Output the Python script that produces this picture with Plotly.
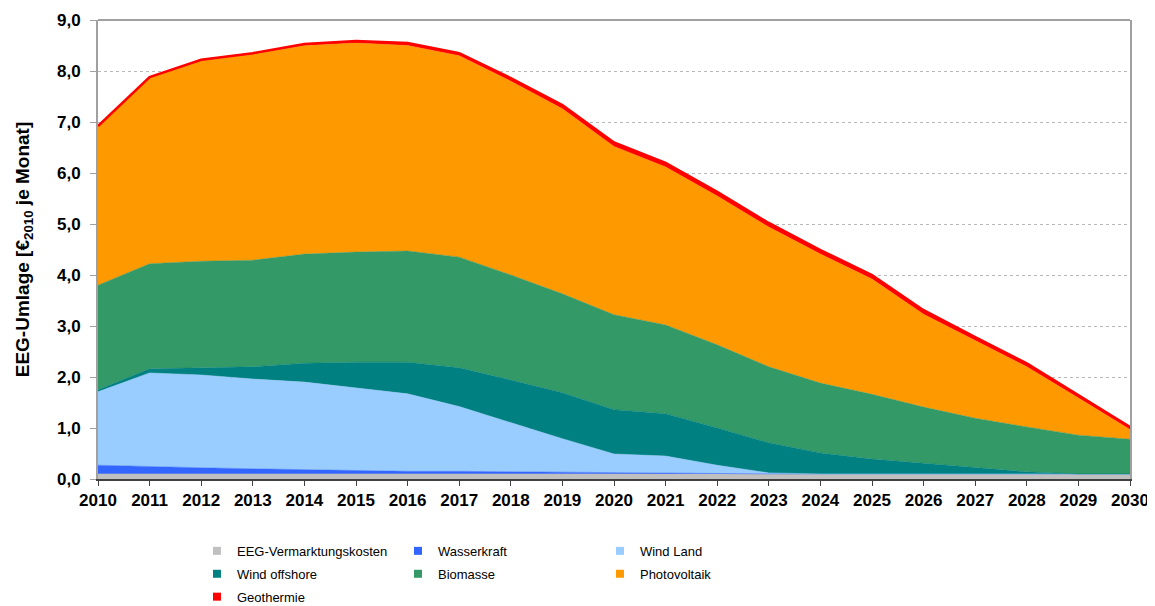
import plotly.graph_objects as go

years = list(range(2010, 2031))
y_ticks = [0, 1, 2, 3, 4, 5, 6, 7, 8, 9]

eeg_vermarktung = [0.10] * 21
wasserkraft = [0.17, 0.14, 0.12, 0.10, 0.08, 0.07, 0.05, 0.05, 0.04, 0.03, 0.02,
               0.01, 0.0, 0.0, 0.0, 0.0, 0.0, 0.0, 0.0, 0.0, 0.0]
wind_land = [1.44, 1.84, 1.82, 1.76, 1.72, 1.61, 1.52, 1.27, 0.96, 0.66, 0.37,
             0.34, 0.17, 0.02, 0.0, 0.0, 0.0, 0.0, 0.0, 0.0, 0.0]
wind_offshore = [0.04, 0.08, 0.14, 0.24, 0.37, 0.51, 0.62, 0.76, 0.84, 0.90, 0.87,
                 0.83, 0.73, 0.59, 0.41, 0.29, 0.21, 0.13, 0.04, 0.0, 0.0]
biomasse = [2.05, 2.06, 2.09, 2.09, 2.14, 2.16, 2.18, 2.17, 2.06, 1.94, 1.86,
            1.74, 1.63, 1.49, 1.37, 1.27, 1.10, 0.96, 0.88, 0.76, 0.68]
photovoltaik = [3.12, 3.65, 3.93, 4.04, 4.09, 4.10, 4.03, 3.95, 3.80, 3.63, 3.30,
                3.10, 2.92, 2.74, 2.53, 2.26, 1.82, 1.52, 1.18, 0.73, 0.19]
geothermie = [0.0, 0.01, 0.02, 0.02, 0.03, 0.04, 0.05, 0.05, 0.06, 0.07, 0.08,
              0.08, 0.08, 0.08, 0.08, 0.08, 0.08, 0.07, 0.07, 0.06, 0.05]

# (name, values, colour, legend column)
series = [
    ("EEG-Vermarktungskosten", eeg_vermarktung, "#C0C0C0", "legend"),
    ("Wasserkraft", wasserkraft, "#3366FF", "legend2"),
    ("Wind Land", wind_land, "#99CCFF", "legend3"),
    ("Wind offshore", wind_offshore, "#008080", "legend"),
    ("Biomasse", biomasse, "#339966", "legend2"),
    ("Photovoltaik", photovoltaik, "#FF9900", "legend3"),
    ("Geothermie", geothermie, "#FF0000", "legend"),
]

FONT = "Arial, Liberation Sans, sans-serif"

fig = go.Figure()
for name, vals, col, _ in series:
    lw = 2.5 if name == "Geothermie" else 0.5
    fig.add_trace(go.Scatter(
        x=years, y=vals, name=name, mode="lines",
        stackgroup="one", line=dict(color=col, width=lw),
        fillcolor=col, showlegend=False,
    ))

# legend entries with square markers
for name, vals, col, leg in series:
    fig.add_trace(go.Scatter(
        x=[None], y=[None], name=name, mode="markers",
        marker=dict(symbol="square", size=8, color=col),
        legend=leg, legendgroup=name, showlegend=True,
    ))

leg_common = dict(
    orientation="v", yanchor="top", xanchor="left", y=-0.124,
    font=dict(size=13, family=FONT, color="black"),
    bgcolor="rgba(0,0,0,0)", borderwidth=0, itemwidth=30,
    tracegroupgap=3, traceorder="grouped",
)

fig.update_layout(
    width=1147, height=598,
    margin=dict(l=90, r=25, t=12, b=127, autoexpand=False),
    paper_bgcolor="white", plot_bgcolor="white",
    font=dict(family=FONT, color="black"),
    showlegend=True,
    legend=dict(x=0.0959, **leg_common),
    legend2=dict(x=0.2907, **leg_common),
    legend3=dict(x=0.4864, **leg_common),
    xaxis=dict(
        range=[2010, 2030], tickmode="array", tickvals=years,
        ticktext=["<b>%d</b>" % y for y in years],
        tickfont=dict(size=17, family=FONT),
        ticks="outside", ticklen=5, tickcolor="#404040",
        showline=True, linecolor="#404040", linewidth=1.5,
        showgrid=False, zeroline=False,
    ),
    yaxis=dict(
        range=[0, 9], tickmode="array", tickvals=y_ticks,
        ticktext=["<b>%s</b>" % ("%.1f" % v).replace(".", ",") for v in y_ticks],
        tickfont=dict(size=17, family=FONT),
        ticks="outside", ticklen=6, tickcolor="#A0A0A0",
        ticklabelstandoff=6,
        showline=True, linecolor="#A0A0A0", linewidth=2, mirror=True,
        showgrid=True, gridcolor="#B8B8B8", griddash="dot", gridwidth=1,
        zeroline=False,
        title=dict(text="<b>EEG-Umlage [€<sub>2010</sub> je Monat]</b>",
                   font=dict(size=19, family=FONT), standoff=22),
    ),
)

fig.add_shape(type="line", xref="paper", yref="paper", x0=0, x1=1, y0=1, y1=1,
              line=dict(color="#A0A0A0", width=2))

fig.write_html("out.html")
